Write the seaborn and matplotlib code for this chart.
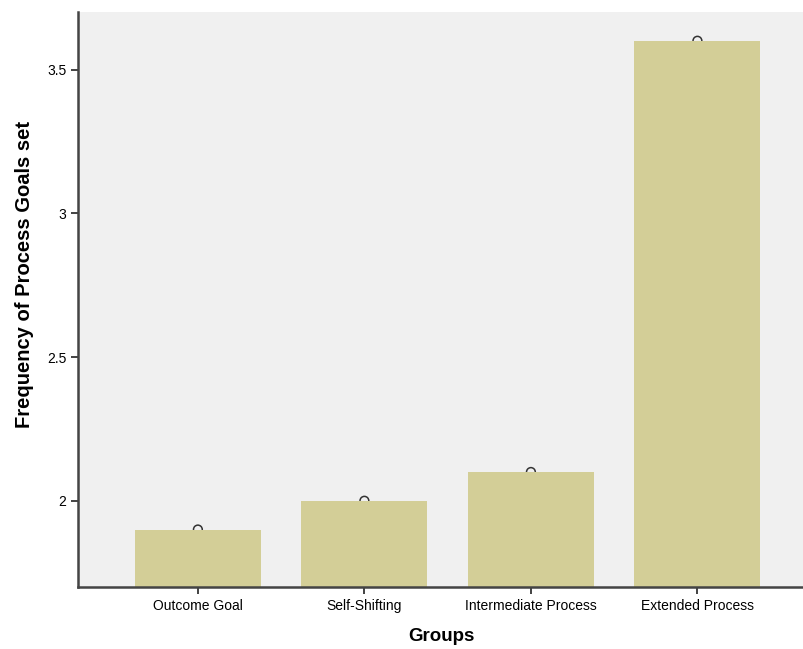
import matplotlib.pyplot as plt
import seaborn as sns
import pandas as pd

groups = ["Outcome Goal", "Self-Shifting", "Intermediate Process", "Extended Process"]
freq = [1.90, 2.00, 2.10, 3.60]
yticks = [2, 2.5, 3, 3.5]
ytick_labels = ["2", "2.5", "3", "3.5"]

df = pd.DataFrame({"Groups": groups, "Frequency": freq})

sns.set_style("white")
plt.rcParams["font.family"] = ["Liberation Sans", "DejaVu Sans"]
fig = plt.figure(figsize=(8.04, 6.49), dpi=100)
ax = fig.add_axes([0.097, 0.0955, 0.903, 0.886])
ax.set_facecolor("#F0F0F0")

sns.barplot(data=df, x="Groups", y="Frequency", color="#D3CE97", saturation=1,
            width=0.757, edgecolor="none", ax=ax, zorder=3)
# little open circles sitting on the bar tops (half hidden by the bars)
ax.scatter(range(len(groups)), freq, s=40, facecolors="none", edgecolors="#333333",
           linewidths=1.1, zorder=2)

ax.set_ylim(1.7, 3.7)
ax.set_xlim(-0.72, 3.64)
ax.set_yticks(yticks)
ax.set_yticklabels(ytick_labels)

for s in ["top", "right"]:
    ax.spines[s].set_visible(False)
for s in ["left", "bottom"]:
    ax.spines[s].set_color("#444444")
    ax.spines[s].set_linewidth(1.8)
    ax.spines[s].set_zorder(4)

ax.tick_params(axis="both", direction="out", length=5, width=1.2, color="#222222",
               labelsize=10, labelcolor="black", left=True, bottom=True)
ax.set_xlabel("Groups", fontsize=13.5, fontweight="bold", labelpad=11, color="black")
ax.set_ylabel("Frequency of Process Goals set", fontsize=14.5, fontweight="bold",
              color="black")
ax.yaxis.set_label_coords(-0.060, 0.543)

fig.savefig("out.png", dpi=100)
